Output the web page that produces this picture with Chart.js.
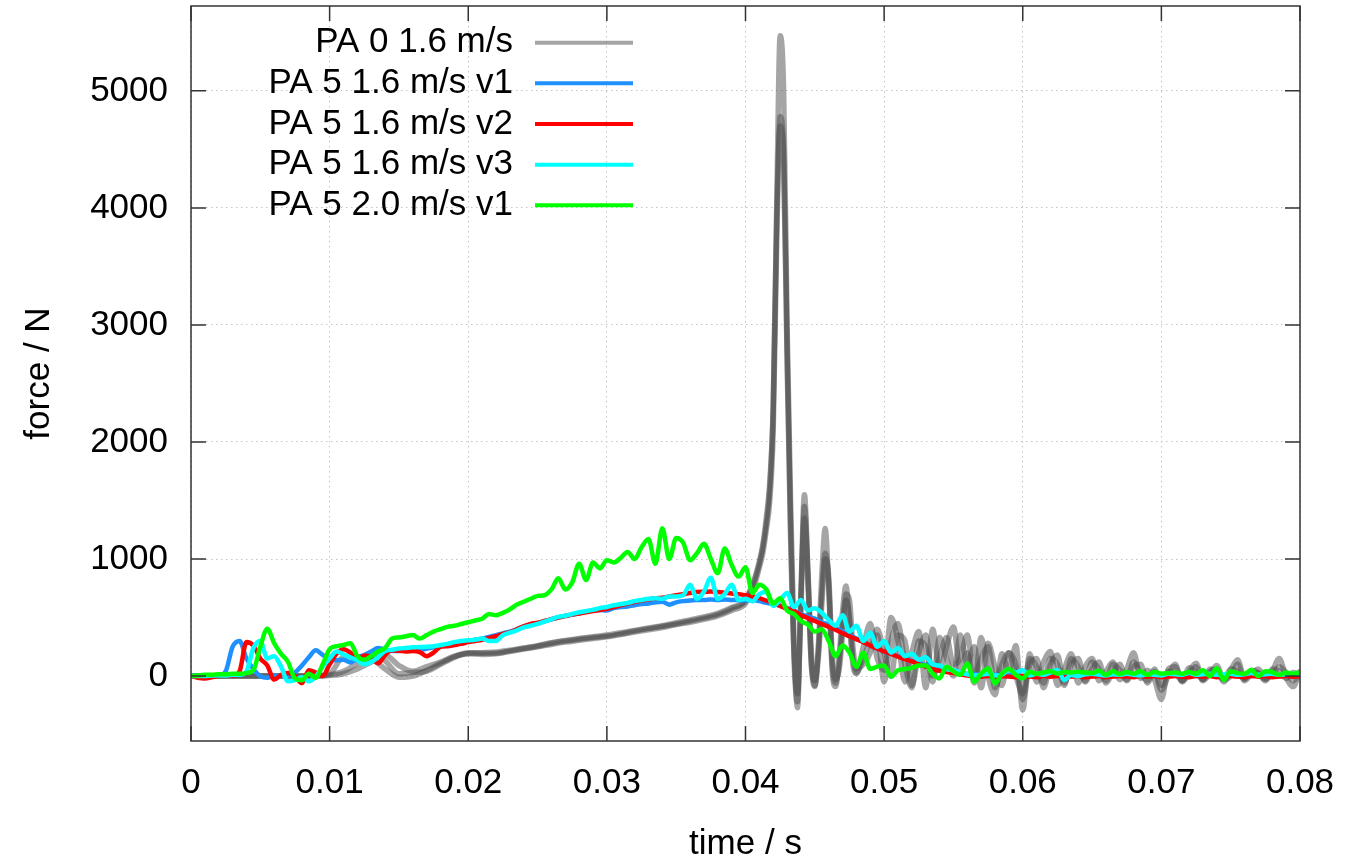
<!DOCTYPE html>
<html>
<head>
<meta charset="utf-8">
<script src="https://cdn.jsdelivr.net/npm/chart.js@4.4.0/dist/chart.umd.min.js"></script>
<style>
  body { margin: 0; background: #fff; }
</style>
</head>
<body>
<canvas id="forceChart" width="1368" height="862"></canvas>
<script>
  // time grid for the PA 5 runs (s)
  const time = [
    0,0.0005,0.001,0.0015,0.002,0.0025,0.003,0.0035,0.004,0.0045,
    0.005,0.0055,0.006,0.0065,0.007,0.0075,0.008,0.0085,0.009,0.0095,
    0.01,0.0105,0.011,0.0115,0.012,0.0125,0.013,0.0135,0.014,0.0145,
    0.015,0.0155,0.016,0.0165,0.017,0.0175,0.018,0.0185,0.019,0.0195,
    0.02,0.0205,0.021,0.0215,0.022,0.0225,0.023,0.0235,0.024,0.0245,
    0.025,0.0255,0.026,0.0265,0.027,0.0275,0.028,0.0285,0.029,0.0295,
    0.03,0.0305,0.031,0.0315,0.032,0.0325,0.033,0.0335,0.034,0.0345,
    0.035,0.0355,0.036,0.0365,0.037,0.0375,0.038,0.0385,0.039,0.0395,
    0.04,0.0405,0.041,0.0415,0.042,0.0425,0.043,0.0435,0.044,0.0445,
    0.045,0.0455,0.046,0.0465,0.047,0.0475,0.048,0.0485,0.049,0.0495,
    0.05,0.0505,0.051,0.0515,0.052,0.0525,0.053,0.0535,0.054,0.0545,
    0.055,0.0555,0.056,0.0565,0.057,0.0575,0.058,0.0585,0.059,0.0595,
    0.06,0.0605,0.061,0.0615,0.062,0.0625,0.063,0.0635,0.064,0.0645,
    0.065,0.0655,0.066,0.0665,0.067,0.0675,0.068,0.0685,0.069,0.0695,
    0.07,0.0705,0.071,0.0715,0.072,0.0725,0.073,0.0735,0.074,0.0745,
    0.075,0.0755,0.076,0.0765,0.077,0.0775,0.078,0.0785,0.079,0.0795,
    0.08
  ];

  // time grid for the PA 0 runs, finer around the impact peak (s)
  const grayTime = [
    0,0.001,0.002,0.003,0.004,0.005,0.006,0.007,0.008,0.009,
    0.01,0.011,0.012,0.013,0.014,0.015,0.016,0.017,0.018,0.019,
    0.02,0.021,0.022,0.023,0.024,0.025,0.026,0.027,0.028,0.029,
    0.03,0.031,0.032,0.033,0.034,0.035,0.036,0.037,0.038,0.039,
    0.04,
    0.04025,0.0405,0.04075,0.041,0.04125,0.0415,0.04175,0.042,
    0.04225,0.0425,0.04275,0.043,0.04325,0.0435,0.04375,0.044,
    0.04425,0.0445,0.04475,0.045,0.04525,0.0455,0.04575,0.046,
    0.04625,0.0465,0.04675,0.047,0.04725,0.0475,0.04775,0.048,
    0.0485,0.049,0.0495,0.05,
    0.0505,0.051,0.0515,0.052,0.0525,0.053,0.0535,0.054,0.0545,0.055,
    0.0555,0.056,0.0565,0.057,0.0575,0.058,0.0585,0.059,0.0595,0.06,
    0.0605,0.061,0.0615,0.062,0.0625,0.063,0.0635,0.064,0.0645,0.065,
    0.0655,0.066,0.0665,0.067,0.0675,0.068,0.0685,0.069,0.0695,0.07,
    0.0705,0.071,0.0715,0.072,0.0725,0.073,0.0735,0.074,0.0745,0.075,
    0.0755,0.076,0.0765,0.077,0.0775,0.078,0.0785,0.079,0.0795,0.08
  ];

  // force (N)
  const pa0Run1 = [
    0,0,0,0,0,0,0,0,0,5,
    20,160,140,140,60,-10,0,50,110,165,
    200,195,195,215,235,255,280,300,315,330,
    340,360,385,405,425,445,470,495,525,575,
    640,
    700,760,850,960,1100,1300,1600,2300,
    4000,5470,5000,3000,1500,300,-270,700,
    1550,900,100,-90,250,850,1260,750,
    50,-90,150,550,770,450,100,20,
    250,450,150,50,
    500,300,-50,200,380,-100,400,50,250,420,
    50,200,-60,330,0,-160,190,30,260,-290,
    190,-50,120,210,-80,60,190,-60,80,150,
    -40,40,120,-30,60,200,-20,50,-30,-200,
    60,80,-40,40,110,-30,40,60,-50,50,
    140,-20,30,20,-40,40,150,-10,-90,40
  ];
  const pa0Run2 = [
    0,0,0,0,0,0,0,0,0,0,
    10,40,110,200,130,20,30,40,100,160,
    190,185,190,210,230,250,270,290,305,320,
    335,355,375,395,415,440,460,485,515,560,
    620,
    680,740,820,930,1050,1250,1500,2100,
    3700,4780,4500,2800,1300,150,-220,700,
    1350,800,100,-40,200,700,1050,800,
    100,-60,100,450,650,500,150,30,
    150,300,350,-50,
    300,450,100,-100,300,250,-50,330,150,0,
    350,100,250,-100,280,80,-80,200,100,-200,
    100,150,-100,100,180,-60,100,150,-50,60,
    120,-60,30,100,-40,80,100,-60,40,-120,
    0,100,-50,20,80,-40,20,90,-30,0,
    100,-40,20,60,-20,10,80,30,-40,20
  ];
  const pa0Run3 = [
    0,0,0,0,0,0,0,0,0,0,
    5,20,60,120,180,90,40,80,120,170,
    195,200,205,220,240,260,285,305,320,335,
    350,370,390,410,430,455,480,505,535,585,
    650,
    710,780,870,980,1120,1350,1650,2300,
    3900,4700,4400,2700,1200,200,-150,600,
    1450,900,200,-80,150,600,1000,850,
    200,-30,50,350,700,650,250,60,
    100,200,400,200,
    0,350,300,-80,200,350,0,150,330,100,
    150,350,0,150,250,-100,100,200,0,-150,
    150,80,-60,150,100,-80,150,80,-40,120,
    60,-40,100,50,-30,120,20,-40,60,-80,
    40,20,-40,70,30,-30,60,20,-30,60,
    40,-30,50,30,-30,60,40,-20,30,20
  ];
  const pa5v1 = [
    0,0,5,0,5,40,250,300,150,60,
    0,-15,5,0,5,30,90,160,220,180,
    140,135,140,115,160,180,210,240,225,215,
    215,220,225,220,235,245,255,265,280,290,
    300,310,320,335,350,365,380,400,425,440,
    450,470,485,500,515,525,535,550,560,565,
    560,580,590,595,605,615,620,630,635,610,
    630,640,645,650,650,655,650,655,650,648,
    645,650,640,625,615,600,580,560,530,510,
    490,460,440,410,380,350,320,290,260,235,
    210,190,170,150,130,110,95,80,65,50,
    40,30,20,15,10,5,10,0,5,10,
    0,10,5,0,10,5,0,5,10,0,
    5,10,0,5,10,0,5,0,10,5,
    0,5,10,0,5,0,10,5,0,5,
    10,0,5,0,10,5,0,5,10,0,
    5
  ];
  const pa5v2 = [
    0,-15,-20,-10,0,5,5,40,290,260,
    150,90,-30,10,25,0,-60,50,30,0,
    100,190,230,200,140,175,160,110,180,220,
    215,210,215,205,170,200,250,255,265,275,
    290,300,310,325,340,360,375,400,425,445,
    455,470,485,500,512,525,535,545,555,565,
    575,590,605,620,635,645,655,665,670,680,
    690,700,710,718,720,722,718,712,705,700,
    690,680,665,645,625,600,575,555,520,495,
    470,445,420,395,365,340,315,290,260,235,
    210,190,165,145,125,100,80,60,45,35,
    25,15,5,0,-5,0,-10,0,-5,-10,
    0,-5,-10,0,-5,0,-10,-5,0,-10,
    -5,0,-10,-5,0,-5,-10,0,-5,0,
    -10,-5,0,-5,-10,0,-5,0,-10,-5,
    0,-5,-10,0,-5,0,-10,-5,0,-5,
    0
  ];
  const pa5v3 = [
    0,0,0,5,5,5,10,10,40,240,
    300,150,170,80,-45,-35,-10,-45,-5,80,
    150,210,185,160,135,100,120,160,215,225,
    235,240,245,248,250,255,265,275,290,300,
    305,310,320,300,300,350,370,390,415,430,
    445,465,485,505,515,530,545,555,565,580,
    590,605,615,625,640,650,660,665,660,680,
    680,690,780,660,720,840,660,700,780,650,
    660,640,700,720,600,650,710,590,650,560,
    580,540,480,430,520,380,430,300,370,250,
    300,200,240,170,190,140,160,100,90,60,
    50,30,15,5,10,20,5,10,51,30,
    50,5,20,10,30,51,-34,10,0,15,
    20,10,5,15,10,20,10,5,15,10,
    5,20,15,10,25,10,15,20,10,15,
    20,10,15,25,10,15,20,10,15,20,
    15
  ];
  const pa5v1fast = [
    0,5,10,10,15,15,20,20,25,50,
    250,405,280,190,120,-20,-35,20,-15,100,
    230,255,265,280,170,140,170,210,240,320,
    330,340,350,320,350,380,400,420,430,445,
    460,475,490,530,520,540,570,610,635,660,
    685,690,740,835,740,800,960,820,970,920,
    990,970,1010,1060,1000,1100,1170,960,1262,1000,
    1180,1140,990,1050,1130,1000,880,1090,950,850,
    930,710,780,740,620,665,560,530,470,440,
    380,400,300,170,260,200,80,200,60,80,
    90,-5,50,60,70,90,90,20,-20,80,
    40,10,108,-48,20,65,-62,20,60,10,
    -20,37,20,30,40,20,35,30,37,30,
    25,45,10,40,15,35,20,40,10,35,
    20,25,30,20,35,20,50,0,66,-34,
    40,25,20,51,0,40,35,10,30,20,
    30
  ];

  const xTicks = [0, 0.01, 0.02, 0.03, 0.04, 0.05, 0.06, 0.07, 0.08];
  const xTickLabels = ['0', '0.01', '0.02', '0.03', '0.04', '0.05', '0.06', '0.07', '0.08'];
  const yTicks = [0, 1000, 2000, 3000, 4000, 5000];
  const yTickLabels = ['0', '1000', '2000', '3000', '4000', '5000'];

  const FONT = "'Liberation Sans', Arial, sans-serif";
  const GRAY = 'rgba(75,75,75,0.5)';

  function toPoints(xs, ys) {
    return xs.map((x, i) => ({ x: x, y: ys[i] }));
  }

  function series(label, xs, ys, color, width, order, legendRow) {
    return {
      label: label,
      data: toPoints(xs, ys),
      borderColor: color,
      borderWidth: width,
      order: order,
      legendRow: legendRow
    };
  }

  const datasets = [
    series('PA 0 1.6 m/s', grayTime, pa0Run1, GRAY, 5.5, 10, 0),
    series('PA 0 1.6 m/s', grayTime, pa0Run2, GRAY, 5.5, 9, null),
    series('PA 0 1.6 m/s', grayTime, pa0Run3, GRAY, 5.5, 8, null),
    series('PA 5 1.6 m/s v1', time, pa5v1, '#1e90ff', 4.5, 4, 1),
    series('PA 5 1.6 m/s v2', time, pa5v2, '#ff0000', 4.5, 3, 2),
    series('PA 5 1.6 m/s v3', time, pa5v3, '#00ffff', 4.5, 2, 3),
    series('PA 5 2.0 m/s v1', time, pa5v1fast, '#00ff00', 4.5, 1, 4)
  ];

  // gnuplot style key: text right aligned, line sample on the right
  const keyPlugin = {
    id: 'gnuKey',
    afterDatasetsDraw(chart) {
      const ctx = chart.ctx;
      ctx.save();
      ctx.font = '35px ' + FONT;
      ctx.textAlign = 'right';
      ctx.textBaseline = 'middle';
      chart.data.datasets.forEach(d => {
        if (d.legendRow === null) return;
        const y = 42.7 + d.legendRow * 40.65;
        ctx.fillStyle = '#000';
        ctx.fillText(d.label, 513, y);
        ctx.strokeStyle = d.borderColor;
        ctx.lineWidth = 4;
        ctx.beginPath();
        ctx.moveTo(535, y);
        ctx.lineTo(633, y);
        ctx.stroke();
      });
      ctx.restore();
    }
  };

  // border box and inward tick marks
  const framePlugin = {
    id: 'frame',
    afterDraw(chart) {
      const ctx = chart.ctx;
      const a = chart.chartArea;
      const x = chart.scales.x, y = chart.scales.y;
      ctx.save();
      ctx.strokeStyle = '#333';
      ctx.lineWidth = 1.5;
      ctx.strokeRect(a.left, a.top, a.right - a.left, a.bottom - a.top);
      ctx.beginPath();
      xTicks.forEach(v => {
        const px = x.getPixelForValue(v);
        ctx.moveTo(px, a.bottom); ctx.lineTo(px, a.bottom - 15);
        ctx.moveTo(px, a.top); ctx.lineTo(px, a.top + 15);
      });
      yTicks.forEach(v => {
        const py = y.getPixelForValue(v);
        ctx.moveTo(a.left, py); ctx.lineTo(a.left + 15, py);
        ctx.moveTo(a.right, py); ctx.lineTo(a.right - 15, py);
      });
      ctx.stroke();
      ctx.restore();
    }
  };

  const ctx = document.getElementById('forceChart').getContext('2d');
  new Chart(ctx, {
    type: 'line',
    data: { datasets: datasets },
    plugins: [keyPlugin, framePlugin],
    options: {
      responsive: false,
      animation: false,
      devicePixelRatio: 1,
      layout: { padding: { top: 6, right: 68, bottom: 0, left: 0 } },
      elements: {
        point: { radius: 0 },
        line: { cubicInterpolationMode: 'monotone', borderJoinStyle: 'round', borderCapStyle: 'round' }
      },
      plugins: { legend: { display: false }, tooltip: { enabled: false } },
      scales: {
        x: {
          type: 'linear',
          min: 0,
          max: 0.08,
          afterBuildTicks: s => { s.ticks = xTicks.map(v => ({ value: v })); },
          afterFit: s => { s.height = 121; s.paddingLeft = 0; s.paddingRight = 0; },
          ticks: {
            callback: (v, i) => xTickLabels[i],
            color: '#000',
            font: { family: FONT, size: 35 },
            padding: 21,
            maxRotation: 0,
            autoSkip: false
          },
          grid: { color: '#c4c4c4', lineWidth: 1, drawTicks: false },
          border: { display: false, dash: [1.5, 3.5] },
          title: {
            display: true,
            text: 'time / s',
            color: '#000',
            font: { family: FONT, size: 35 },
            padding: { top: 0, bottom: -3 }
          }
        },
        y: {
          type: 'linear',
          min: -555,
          max: 5725,
          afterBuildTicks: s => { s.ticks = yTicks.map(v => ({ value: v })); },
          afterFit: s => { s.width = 191; s.paddingTop = 0; s.paddingBottom = 0; },
          ticks: {
            callback: (v, i) => yTickLabels[i],
            color: '#000',
            font: { family: FONT, size: 35 },
            padding: 23,
            autoSkip: false
          },
          grid: { color: '#c4c4c4', lineWidth: 1, drawTicks: false },
          border: { display: false, dash: [1.5, 3.5] },
          title: {
            display: true,
            text: 'force / N',
            color: '#000',
            font: { family: FONT, size: 35 },
            padding: { top: 18, bottom: 0 }
          }
        }
      }
    }
  });
</script>
</body>
</html>
